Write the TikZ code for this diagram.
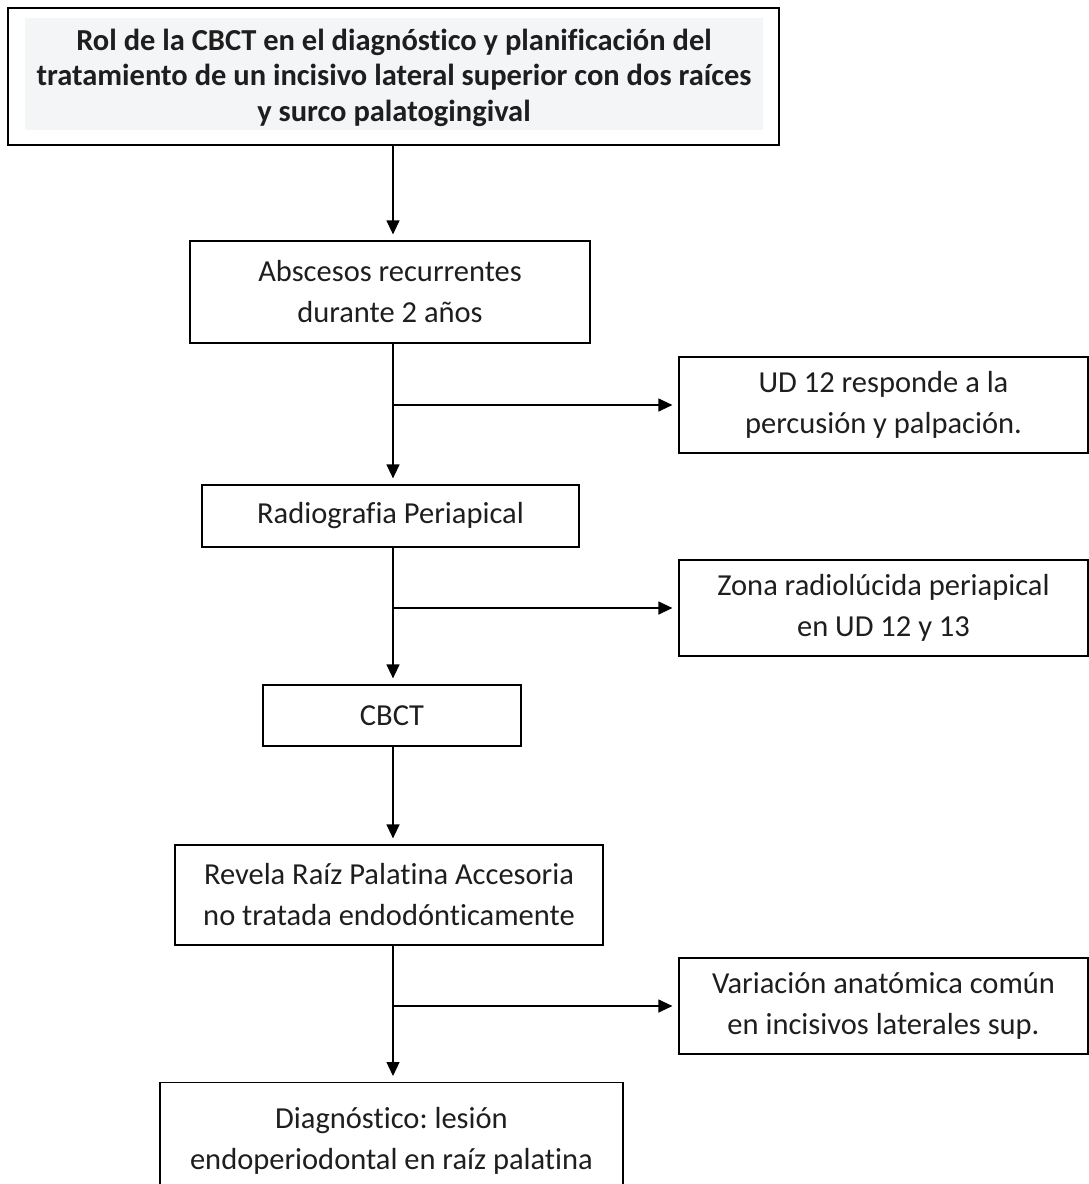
\documentclass[tikz,border=0pt]{standalone}
\usepackage{fontspec}
\setmainfont[Ligatures=NoCommon]{Carlito}
\usetikzlibrary{arrows.meta}
\frenchspacing
\definecolor{titlebg}{HTML}{F4F5F7}
\definecolor{txt}{HTML}{1E1E1E}
\tikzset{
  box/.style={draw=black, line width=1.2pt, align=center, text=txt, inner sep=0pt,
    font=\fontsize{30.5}{41}\selectfont},
  conn/.style={line width=1.2pt, -{Triangle[length=14pt,width=13pt]}, shorten >=6pt},
  plain/.style={line width=1.2pt}
}
\begin{document}
\begin{tikzpicture}[x=1pt,y=-1pt]
\useasboundingbox (0,0) rectangle (1089,1184);
% title
\node[draw=black, line width=1.4pt, minimum width=771pt, minimum height=137pt, inner sep=0pt] (title) at (393.5,76.5) {};
\node[fill=titlebg, minimum width=738pt, minimum height=112pt, inner sep=0pt] (titlebgbox) at (394,74) {};
\node[inner sep=0pt, align=center,
  font=\bfseries\fontsize{30.5}{35.5}\selectfont, text=txt] (titletext) at (394,77.5)
  {Rol de la CBCT en el diagnóstico y planificación del\\tratamiento de un incisivo lateral superior con dos raíces\\y surco palatogingival};
\coordinate (spine) at (393,0);
% main column
\node[box, minimum width=400pt, minimum height=102pt] (abs) at (390,292) {Abscesos recurrentes\\durante 2 años};
\node[box, minimum width=377pt, minimum height=62pt] (rad) at (390.5,516) {Radiografia Periapical};
\node[box, minimum width=258pt, minimum height=61pt] (cbct) at (392,715.5) {CBCT};
\node[box, minimum width=428pt, minimum height=100pt] (rev) at (389,895) {Revela Raíz Palatina Accesoria\\no tratada endodónticamente};
\node[box, minimum width=463pt, minimum height=116pt, anchor=north] (diag) at (391.5,1082) {Diagnóstico: lesión\\endoperiodontal en raíz palatina};
% side boxes
\node[box, minimum width=409pt, minimum height=96pt] (ud) at (883.5,405) {UD 12 responde a la\\percusión y palpación.};
\node[box, minimum width=409pt, minimum height=96pt] (zona) at (883.5,608) {Zona radiolúcida periapical\\en UD 12 y 13};
\node[box, minimum width=409pt, minimum height=96pt] (var) at (883.5,1006) {Variación anatómica común\\en incisivos laterales sup.};
% branch points
\coordinate (b1) at (spine |- ud.west);
\coordinate (b2) at (spine |- zona.west);
\coordinate (b3) at (spine |- var.west);
% connectors
\draw[conn] (title.south -| spine) -- (abs.north -| spine);
\draw[conn] (abs.south -| spine) -- (rad.north -| spine);
\draw[conn] (rad.south -| spine) -- (cbct.north -| spine);
\draw[conn] (cbct.south -| spine) -- (rev.north -| spine);
\draw[conn] (rev.south -| spine) -- (diag.north -| spine);
\draw[conn] (b1) -- (ud.west);
\draw[conn] (b2) -- (zona.west);
\draw[conn] (b3) -- (var.west);
\end{tikzpicture}
\end{document}
